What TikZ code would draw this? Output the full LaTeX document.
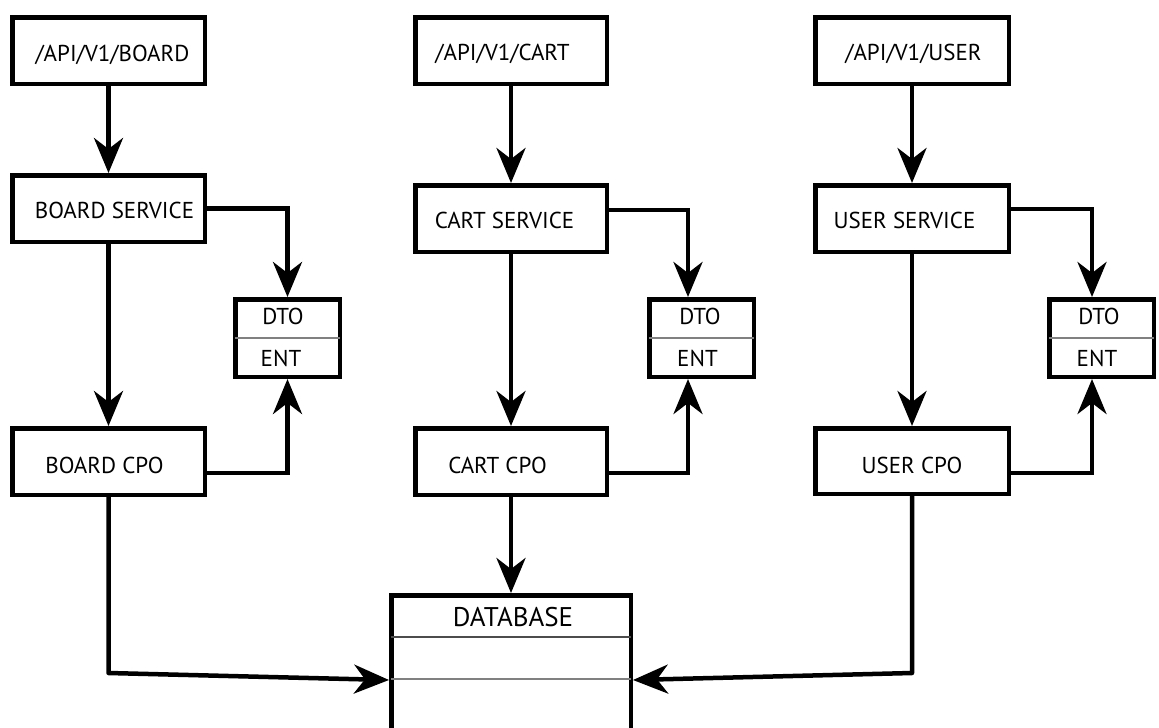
\documentclass[tikz,border=0pt]{standalone}
\usepackage{fontspec}
\setmainfont{PT Sans}
\usetikzlibrary{arrows.meta}

\tikzset{
  box/.style={draw, line width=4.5pt, rectangle, inner sep=0pt, outer sep=2.25pt},
  lbl/.style={inner sep=0pt, anchor=base, font=\fontsize{23}{26}\selectfont},
  dblbl/.style={inner sep=0pt, anchor=base, font=\fontsize{27}{30}\selectfont},
  arr/.style={line width=4.5pt, -{Stealth[length=35pt, width=29pt, inset=11pt]}},
  rule/.style={line width=1.6pt, draw=black!50},
}

\begin{document}
\begin{tikzpicture}[x=1pt, y=-1pt]
\useasboundingbox (0,0) rectangle (1159,728);
\clip (0,0) rectangle (1159,728);

% ---- board column
\node[box, minimum width=192.5pt, minimum height=66.5pt] (api1) at (108.5,50.5) {};
\node[box, minimum width=192.5pt, minimum height=66.5pt] (svc1) at (108.5,208.5) {};
\node[box, minimum width=192.5pt, minimum height=66.5pt] (cpo1) at (108.5,461.5) {};
\node[box, minimum width=104.5pt, minimum height=77.5pt] (dto1) at (287.5,338) {};
\node[lbl] (api1t) at (112.5,61) {/API/V1/BOARD};
\node[lbl] (svc1t) at (114.5,218) {BOARD SERVICE};
\node[lbl] (cpo1t) at (104.5,473) {BOARD CPO};
\node[lbl] (dto1t) at (283,324) {DTO};
\node[lbl] (ent1t) at (281,366) {ENT};
\draw[rule] ([xshift=2.25pt]dto1.west |- 0,338) -- ([xshift=-2.25pt]dto1.east |- 0,338);

% ---- cart column
\node[box, minimum width=191.5pt, minimum height=66.5pt] (api2) at (511,50.5) {};
\node[box, minimum width=191.5pt, minimum height=66.5pt] (svc2) at (511,218.5) {};
\node[box, minimum width=191.5pt, minimum height=66.5pt] (cpo2) at (511,461.5) {};
\node[box, minimum width=104.5pt, minimum height=77.5pt] (dto2) at (701.5,338) {};
\node[lbl] (api2t) at (502.5,60) {/API/V1/CART};
\node[lbl] (svc2t) at (504.5,228) {CART SERVICE};
\node[lbl] (cpo2t) at (497.5,473) {CART CPO};
\node[lbl] (dto2t) at (700,324) {DTO};
\node[lbl] (ent2t) at (697.5,366) {ENT};
\draw[rule] ([xshift=2.25pt]dto2.west |- 0,338) -- ([xshift=-2.25pt]dto2.east |- 0,338);

% ---- user column
\node[box, minimum width=193.5pt, minimum height=66.5pt] (api3) at (912,50.5) {};
\node[box, minimum width=193.5pt, minimum height=66.5pt] (svc3) at (912,218.5) {};
\node[box, minimum width=193.5pt, minimum height=65.5pt] (cpo3) at (912,461) {};
\node[box, minimum width=104.5pt, minimum height=77.5pt] (dto3) at (1101.5,338) {};
\node[lbl] (api3t) at (913.5,60) {/API/V1/USER};
\node[lbl] (svc3t) at (904.5,228) {USER SERVICE};
\node[lbl] (cpo3t) at (912,473) {USER CPO};
\node[lbl] (dto3t) at (1099,324) {DTO};
\node[lbl] (ent3t) at (1097,366) {ENT};
\draw[rule] ([xshift=2.25pt]dto3.west |- 0,338) -- ([xshift=-2.25pt]dto3.east |- 0,338);

% ---- database (runs past the lower edge)
\node[box, minimum width=239.5pt, minimum height=240pt, anchor=north] (db) at (511,593) {};
\node[dblbl] (dbt) at (513,626) {DATABASE};
\draw[line width=1.6pt, draw=black!70] ([xshift=2.25pt]db.west |- 0,637) -- ([xshift=-2.25pt]db.east |- 0,637);
\draw[rule] ([xshift=2.25pt]db.west |- 0,679) -- ([xshift=-2.25pt]db.east |- 0,679);
\coordinate (dbL) at (389,680);
\coordinate (dbR) at (633,680);
\coordinate (bend1) at (108.5,673);
\coordinate (bend3) at (912,673);

% ---- connectors
\draw[arr] (api1.south) -- (svc1.north);
\draw[arr] (svc1.south) -- (cpo1.north);
\draw[arr] (svc1.east) -| (dto1.north);
\draw[arr] ([yshift=-11.5pt]cpo1.east) -| (dto1.south);
\draw[arr, line join=round] (cpo1.south) -- (bend1) -- (dbL);

\draw[arr] (api2.south) -- (svc2.north);
\draw[arr] (svc2.south) -- (cpo2.north);
\draw[arr] ([yshift=8.5pt]svc2.east) -| ([xshift=-13.5pt]dto2.north);
\draw[arr] ([yshift=-11.5pt]cpo2.east) -| ([xshift=-13.5pt]dto2.south);
\draw[arr] (cpo2.south) -- (db.north);

\draw[arr] (api3.south) -- (svc3.north);
\draw[arr] (svc3.south) -- (cpo3.north);
\draw[arr] ([yshift=9.5pt]svc3.east) -| ([xshift=-9.5pt]dto3.north);
\draw[arr] ([yshift=-12pt]cpo3.east) -| ([xshift=-9.5pt]dto3.south);
\draw[arr, line join=round] (cpo3.south) -- (bend3) -- (dbR);
\end{tikzpicture}
\end{document}
